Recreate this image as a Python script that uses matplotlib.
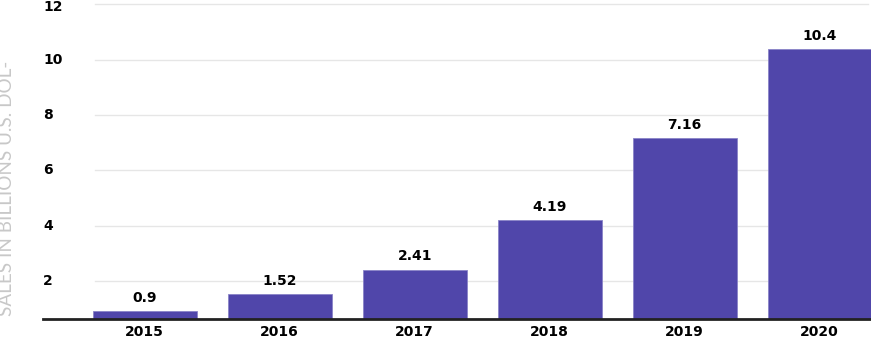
import matplotlib.pyplot as plt
from matplotlib import transforms

years = ["2015", "2016", "2017", "2018", "2019", "2020"]
sales = [0.9, 1.52, 2.41, 4.19, 7.16, 10.4]
yticks = [2, 4, 6, 8, 10, 12]

barColor = "#5046aa"
numFont = "DejaVu Sans"
plt.rcParams["font.family"] = ["Lato", "DejaVu Sans"]

fig = plt.figure(figsize=(8.71, 3.40), dpi=100)
# axes run from the x-axis line to the top edge of the figure
ax = fig.add_axes([43 / 871, 21.5 / 340, 828 / 871, 318.5 / 340])

x = list(range(len(years)))
ax.bar(x, sales, width=0.77, color=barColor, edgecolor="#8a83c8", linewidth=0.6, zorder=2)

# value labels above bars
for xi, v in zip(x, sales):
    ax.text(xi, v + 0.22, f"{v:g}", ha="center", va="bottom", family=numFont,
            fontsize=10, fontweight="bold", color="black", zorder=3)

yTop = 12.16
ax.set_xlim(-0.753, 5.38)
ax.set_ylim(0.64, yTop)

# horizontal grid lines, inset from the left edge
for t in yticks:
    ax.axhline(t, xmin=0.0628, xmax=0.9964, color="#e6e6e6", linewidth=1, zorder=1)

# y tick labels, left-aligned at the axes edge; the top one hangs from the edge
trans = transforms.blended_transform_factory(ax.transAxes, ax.transData)
for t in yticks:
    if t == max(yticks):
        ax.text(0.0, yTop, str(t), transform=trans, ha="left", va="top", family=numFont,
                fontsize=10, fontweight="bold", color="black", clip_on=False)
    else:
        ax.text(0.0, t, str(t), transform=trans, ha="left", va="center", family=numFont,
                fontsize=10, fontweight="bold", color="black", clip_on=False)

ax.set_yticks([])
ax.set_xticks(x)
ax.set_xticklabels(years, fontsize=10, fontweight="bold", family=numFont)
ax.tick_params(axis="x", length=0, pad=5)

for side in ["top", "right", "left"]:
    ax.spines[side].set_visible(False)
ax.spines["bottom"].set_color("#222222")
ax.spines["bottom"].set_linewidth(2)
ax.spines["bottom"].set_zorder(4)

fig.text(-0.002, 24 / 340, "SALES IN BILLIONS U.S. DOL-", rotation=90,
         ha="left", va="bottom", fontsize=13.6, color="#c8c8c8", fontweight="normal")

fig.savefig("out.png", dpi=100)
